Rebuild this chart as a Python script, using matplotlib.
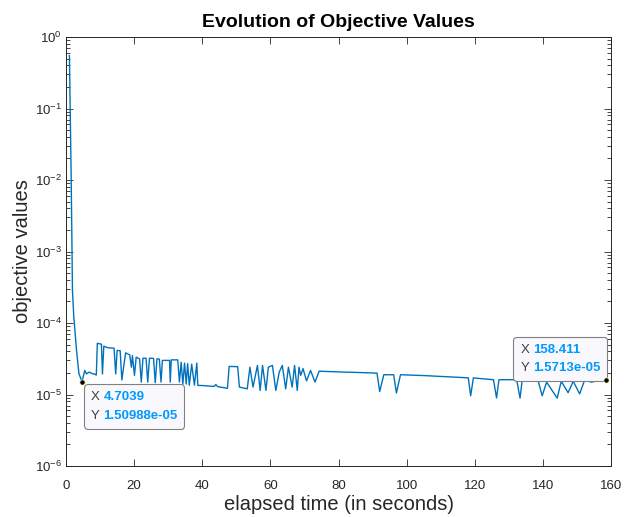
import numpy as np
import matplotlib
matplotlib.use("Agg")
import matplotlib.pyplot as plt
from matplotlib.ticker import LogLocator, NullFormatter
from matplotlib.offsetbox import TextArea, HPacker, VPacker, AnnotationBbox

plt.rcParams['font.family'] = ['Liberation Sans', 'DejaVu Sans']

# ---------------- data ----------------
elapsed_time = [
    1.0, 1.5, 1.9, 2.3, 3.1, 3.8, 4.7039,
    5.5, 6.0, 6.8, 7.9, 8.4, 8.9,
    9.2, 10.4, 10.7, 11.1, 12.3, 14.1, 14.6, 15.0, 15.9, 16.4, 17.5, 18.7,
    19.2, 19.5, 20.1, 20.6, 21.6, 22.1, 22.6, 23.5, 24.0, 24.5, 25.7, 26.2,
    26.7, 27.4, 27.9, 28.3, 30.4, 30.6, 30.9, 32.8, 33.3, 33.8, 34.3, 34.8,
    35.3, 35.7, 36.2, 36.9, 37.7, 38.4, 38.7,
    40.6, 42.1, 43.5, 44.0, 44.5, 47.4,
    47.9, 50.4, 50.9, 53.2,
    54.0, 54.9, 56.2, 57.0, 57.7, 58.7, 59.4, 60.6, 61.6, 62.6, 63.5, 64.5,
    65.3, 66.4, 67.1, 67.9, 68.4, 68.9, 69.6, 70.6, 71.8, 73.1, 74.3,
    80.0, 86.0, 91.3, 92.1, 93.3, 96.2, 97.0, 98.2, 105.0, 112.0, 118.1,
    118.8, 119.6, 121.1, 125.5, 126.4, 127.1, 132.3, 133.3, 133.9, 138.6,
    139.8, 141.1, 144.2, 145.4, 147.4, 148.9, 150.8, 152.3, 154.2, 156.2,
    158.411,
]
objective_values = [
    0.55, 0.013, 2.8e-4, 1.2e-4, 4.1e-5, 1.95e-5, 1.50988e-5,
    2.17e-5, 1.94e-5, 2.06e-5, 1.94e-5, 1.93e-5, 1.87e-5,
    5.2e-5, 5.05e-5, 1.94e-5, 4.74e-5, 4.5e-5, 4.45e-5, 1.94e-5, 4.13e-5,
    4.1e-5, 1.6e-5, 3.82e-5, 3.59e-5,
    2.41e-5, 3.5e-5, 1.85e-5, 3.33e-5, 3.15e-5, 1.49e-5, 3.22e-5, 3.22e-5,
    1.49e-5, 3.22e-5, 3.2e-5, 1.46e-5,
    3.15e-5, 3.12e-5, 1.49e-5, 3.0e-5, 3.0e-5, 1.49e-5, 3.05e-5, 3.05e-5,
    1.49e-5, 2.83e-5, 1.4e-5, 2.75e-5,
    1.4e-5, 2.7e-5, 1.35e-5, 2.66e-5, 1.35e-5, 2.75e-5, 1.34e-5,
    1.33e-5, 1.31e-5, 1.3e-5, 1.38e-5, 1.29e-5, 1.22e-5,
    2.47e-5, 2.45e-5, 1.27e-5, 1.2e-5,
    2.41e-5, 1.27e-5, 2.55e-5, 1.14e-5, 2.55e-5, 1.14e-5, 2.41e-5, 2.55e-5,
    1.14e-5, 2.06e-5, 2.55e-5, 1.2e-5,
    2.41e-5, 1.27e-5, 2.55e-5, 1.14e-5, 2.41e-5, 1.85e-5, 2.3e-5, 1.55e-5,
    2.17e-5, 1.49e-5, 2.12e-5,
    2.07e-5, 2.03e-5, 1.99e-5, 1.10e-5, 1.89e-5, 1.89e-5, 1.05e-5, 1.89e-5,
    1.84e-5, 1.77e-5, 1.71e-5,
    9.6e-6, 1.71e-5, 1.68e-5, 1.61e-5, 8.95e-6, 1.61e-5, 1.61e-5, 8.9e-6,
    1.56e-5, 1.56e-5,
    9.6e-6, 1.49e-5, 8.9e-6, 1.53e-5, 1.06e-5, 1.53e-5, 1.02e-5, 1.61e-5,
    1.49e-5, 1.56e-5,
    1.5713e-05,
]

x_ticks = [0, 20, 40, 60, 80, 100, 120, 140, 160]
tip1 = (4.7039, 1.50988e-05, "4.7039", "1.50988e-05")
tip2 = (158.411, 1.5713e-05, "158.411", "1.5713e-05")

# ---------------- figure ----------------
fig = plt.figure(figsize=(6.24, 5.17), dpi=100)
fig.patch.set_facecolor('white')
ax = fig.add_axes([66 / 624, 51 / 517, 545 / 624, 429 / 517])

ax.plot(elapsed_time, objective_values, color='#0072BD', lw=1.0)
ax.set_yscale('log')
ax.set_xlim(0, 160)
ax.set_ylim(1e-6, 1)
ax.set_xticks(x_ticks)
ax.set_xticklabels([str(v) for v in x_ticks])
ax.yaxis.set_major_locator(LogLocator(base=10, numticks=20))
ax.yaxis.set_minor_locator(LogLocator(base=10, subs=np.arange(2, 10) * 1.0, numticks=100))
ax.yaxis.set_minor_formatter(NullFormatter())

axcol = '#262626'
for s in ax.spines.values():
    s.set_color(axcol)
    s.set_linewidth(0.7)
ax.tick_params(which='both', direction='in', top=True, right=True,
               colors=axcol, labelsize=9.5, width=0.6)
ax.tick_params(which='major', length=5)
ax.tick_params(which='minor', length=2.8)
ax.tick_params(axis='x', pad=10)
ax.tick_params(axis='y', pad=3)

ax.set_title('Evolution of Objective Values', fontsize=14, fontweight='bold',
             color='black', pad=7)
ax.set_xlabel('elapsed time (in seconds)', fontsize=14.5, color=axcol, labelpad=2)
ax.set_ylabel('objective values', fontsize=14.5, color=axcol, labelpad=2)

# ---------------- data tips ----------------
blue = (0.0, 0.6, 1.0)


def datatip(x, y, xs, ys, align, offset):
    rows = []
    for lab, val in (("X", xs), ("Y", ys)):
        rows.append(HPacker(children=[
            TextArea(lab, textprops=dict(color='#404040', fontsize=9.5)),
            TextArea(val, textprops=dict(color=blue, fontsize=9.5, fontweight='bold')),
        ], align='baseline', pad=0, sep=2.5))
    box = VPacker(children=rows, align='left', pad=0, sep=4.5)
    ab = AnnotationBbox(box, (x, y), xybox=offset, xycoords='data',
                        boxcoords='offset points', box_alignment=align,
                        frameon=True, fontsize=10,
                        bboxprops=dict(boxstyle='round,pad=0.5,rounding_size=0.25',
                                       fc='#F9F9FD', ec='#808080', lw=0.8),
                        zorder=5, annotation_clip=False)
    ax.add_artist(ab)
    ax.plot([x], [y], marker='o', ms=3.8, mfc='black', mec='#FFFFA0', mew=0.5,
            zorder=6, clip_on=False)


datatip(tip1[0], tip1[1], tip1[2], tip1[3], (0, 1), (6.5, -7.0))
datatip(tip2[0], tip2[1], tip2[2], tip2[3], (1, 0), (-4.0, 4.5))

fig.savefig('out.png', dpi=100, facecolor='white')
